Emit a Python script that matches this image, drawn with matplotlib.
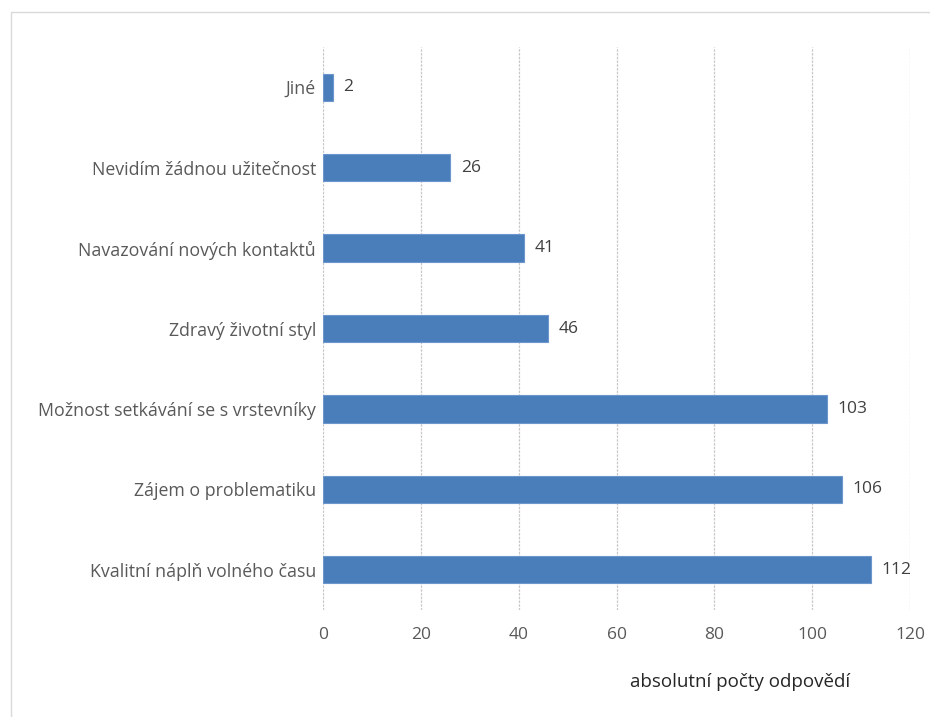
import matplotlib
matplotlib.use("Agg")
import matplotlib.pyplot as plt
from matplotlib.patches import Rectangle

categories = [
    "Jiné",
    "Nevidím žádnou užitečnost",
    "Navazování nových kontaktů",
    "Zdravý životní styl",
    "Možnost setkávání se s vrstevníky",
    "Zájem o problematiku",
    "Kvalitní náplň volného času",
]
values = [2, 26, 41, 46, 103, 106, 112]
x_ticks = [0, 20, 40, 60, 80, 100, 120]
x_label = "absolutní počty odpovědí"

plt.rcParams["font.family"] = ["Open Sans", "DejaVu Sans"]

fig = plt.figure(figsize=(9.3, 7.17), dpi=100)
fig.patch.set_facecolor("white")

# light chart-area frame
fig.patches.append(Rectangle((11 / 930, -0.01), 1.0, 1 - 12 / 717 + 0.01,
                             transform=fig.transFigure, fill=False,
                             edgecolor="#d9d9d9", linewidth=1.0))

ax = fig.add_axes([323 / 930, 1 - 610 / 717, (910 - 323) / 930, (610 - 47) / 717])

pos = list(range(len(categories)))
bars = ax.barh(pos, values, height=0.34, color="#4a7ebb", edgecolor="#6d97cc",
               linewidth=0.8, zorder=3)

ax.set_ylim(len(categories) - 0.5, -0.5)
ax.set_xlim(0, 120)
ax.set_xticks(x_ticks)
ax.set_xticklabels([str(t) for t in x_ticks], color="#595959", fontsize=12.5)
ax.set_yticks(pos)
ax.set_yticklabels(categories, color="#595959", fontsize=12.8)
ax.tick_params(axis="both", length=0)
ax.tick_params(axis="x", pad=12)
ax.tick_params(axis="y", pad=5)

ax.grid(axis="x", color="#c8c8c8", linestyle=(0, (2, 1)), linewidth=0.9, zorder=0)
for s in ax.spines.values():
    s.set_visible(False)

for b, v in zip(bars, values):
    ax.text(v + 2.2, b.get_y() + b.get_height() / 2, str(v), va="center",
            ha="left", color="#404040", fontsize=12.5)

fig.text(740 / 930, 1 - 682 / 717, x_label, ha="center", va="center",
         color="#262626", fontsize=13.5)

fig.savefig("out.png", dpi=100, facecolor="white")
